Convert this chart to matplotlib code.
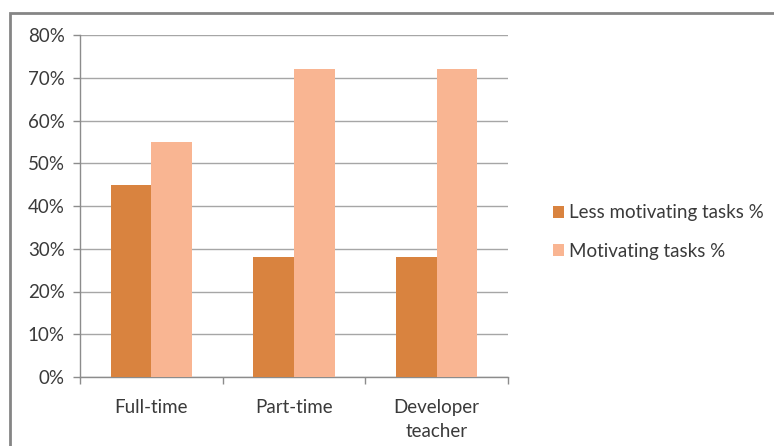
import numpy as np
import matplotlib
matplotlib.use('Agg')
import matplotlib.pyplot as plt
from matplotlib.patches import Rectangle

# ── Data ──────────────────────────────────────────────────────────────────────
categories = ['Full-time', 'Part-time', 'Developer\nteacher']
less_motivating = [45, 28, 28]
motivating = [55, 72, 72]
series_names = ['Less motivating tasks %', 'Motivating tasks %']
y_ticks = [0, 10, 20, 30, 40, 50, 60, 70, 80]

DARK = '#D9833F'
LIGHT = '#F9B592'
TEXT = '#3A3A3A'
GRID = '#A6A6A6'
AXIS = '#8C8C8C'
FS = 13.5

plt.rcParams['font.family'] = ['Lato', 'DejaVu Sans']

W, H = 774, 446
fig = plt.figure(figsize=(W / 100, H / 100), dpi=100)
fig.patch.set_facecolor('white')

# chart border (runs off the right/bottom edge like the source crop)
fig.patches.append(Rectangle((10 / W, -0.1), 1.2, 1 - 13 / H + 0.1,
                             transform=fig.transFigure, fill=False,
                             edgecolor='#858585', linewidth=2))

ax = fig.add_axes([80 / W, 1 - 377 / H, (508 - 80) / W, (377 - 35) / H])

x = np.arange(len(categories))
w = 1 / 3.5   # gap width 150%
ax.bar(x - w / 2, less_motivating, w, color=DARK, label=series_names[0], zorder=3)
ax.bar(x + w / 2, motivating, w, color=LIGHT, label=series_names[1], zorder=3)

ax.set_xlim(-0.5, len(categories) - 0.5)
ax.set_ylim(0, 80)
ax.set_yticks(y_ticks)
ax.set_yticklabels([f'{v}%' for v in y_ticks])
ax.yaxis.grid(True, color=GRID, linewidth=1)
ax.set_axisbelow(True)

ax.set_xticks(x)
ax.set_xticklabels(categories, linespacing=1.45)
ax.set_xticks(np.arange(len(categories) + 1) - 0.5, minor=True)
ax.tick_params(axis='x', which='major', length=0, pad=16, labelsize=FS, colors=TEXT)
ax.tick_params(axis='x', which='minor', length=5, color=AXIS, width=1)
ax.tick_params(axis='y', length=5, color=AXIS, width=1, pad=6, labelsize=FS, colors=TEXT)

for s in ['top', 'right']:
    ax.spines[s].set_visible(False)
for s in ['left', 'bottom']:
    ax.spines[s].set_color(AXIS)
    ax.spines[s].set_linewidth(1)

leg = fig.legend(loc='center left', bbox_to_anchor=(536 / W, 1 - 232 / H),
                 frameon=False, fontsize=FS, handlelength=0.6, handleheight=0.6,
                 handletextpad=0.25, labelspacing=1.15)
for t in leg.get_texts():
    t.set_color(TEXT)

fig.savefig('out.png', dpi=100)
